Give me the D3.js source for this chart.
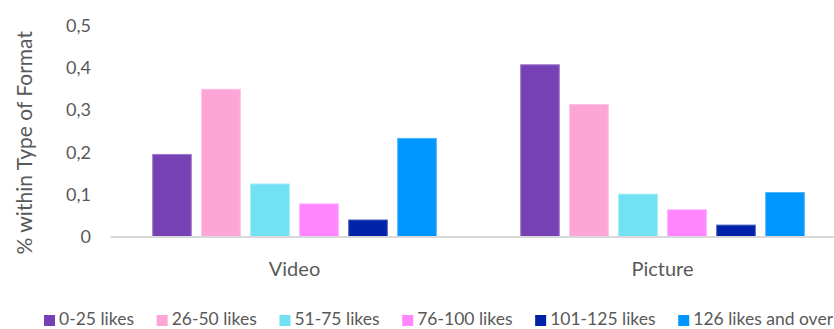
<!DOCTYPE html>
<html>
<head>
<meta charset="utf-8">
<script src="https://cdn.jsdelivr.net/npm/d3@7"></script>
<style>
  html, body { margin: 0; padding: 0; background: #fff; }
  svg { display: block; }
  text { font-family: Lato, "Noto Sans", sans-serif; fill: #595959; }
</style>
</head>
<body>
<svg id="chart" width="834" height="329"></svg>
<script>
// Format categories and like-count buckets
const categories = ["Video", "Picture"];
const series = ["0-25 likes", "26-50 likes", "51-75 likes", "76-100 likes", "101-125 likes", "126 likes and over"];
const colors = ["#7641b5", "#fea5d7", "#71e1f4", "#ff86ff", "#0022a8", "#0096ff"];

// Share within type of format, one array per format
const videoValues = [0.194, 0.348, 0.124, 0.077, 0.039, 0.232];
const pictureValues = [0.406, 0.312, 0.100, 0.063, 0.027, 0.104];
const valuesByCategory = { "Video": videoValues, "Picture": pictureValues };

const yTicks = [0, 0.1, 0.2, 0.3, 0.4, 0.5];
const yTickLabels = ["0", "0,1", "0,2", "0,3", "0,4", "0,5"];
const yTitle = "% within Type of Format";

const svg = d3.select("#chart");
const W = 834, H = 329;

const plot = { left: 110.5, right: 846.5, top: 25, bottom: 236.5 };

const y = d3.scaleLinear().domain([0, 0.5]).range([plot.bottom, plot.top]);
const x0 = d3.scaleBand().domain(categories).range([plot.left, plot.right]);
const x1 = d3.scaleBand().domain(series).range([0, x0.bandwidth()])
  .paddingInner(0.212).paddingOuter(0.861);

// Bars
const groups = svg.append("g").selectAll("g")
  .data(categories).join("g")
  .attr("transform", d => `translate(${x0(d)},0)`);

groups.selectAll("rect")
  .data(c => series.map((s, i) => ({ s, i, v: valuesByCategory[c][i] })))
  .join("rect")
  .attr("x", d => x1(d.s))
  .attr("y", d => y(d.v))
  .attr("width", x1.bandwidth())
  .attr("height", d => y(0) - y(d.v))
  .attr("fill", d => colors[d.i])
  .attr("stroke", d => d3.interpolateRgb(colors[d.i], "#ffffff")(0.3))
  .attr("stroke-width", 1);

// Baseline
svg.append("line")
  .attr("x1", plot.left).attr("x2", W)
  .attr("y1", y(0) + 0.5).attr("y2", y(0) + 0.5)
  .attr("stroke", "#d9d9d9").attr("stroke-width", 2);

// Y axis labels
const yAxis = d3.axisLeft(y)
  .tickValues(yTicks)
  .tickFormat((d, i) => yTickLabels[i])
  .tickSize(0).tickPadding(0);
const yG = svg.append("g").attr("transform", "translate(91,0)").call(yAxis);
yG.select(".domain").remove();
yG.selectAll("text")
  .style("font-family", "Lato, 'Noto Sans', sans-serif")
  .style("font-size", "18px").style("fill", "#595959")
  .attr("dy", "0.35em");

// Category labels
const xAxis = d3.axisBottom(x0).tickSize(0).tickPadding(0);
const xG = svg.append("g").attr("transform", `translate(0,${y(0)})`).call(xAxis);
xG.select(".domain").remove();
xG.selectAll("text")
  .style("font-family", "Lato, 'Noto Sans', sans-serif")
  .style("font-size", "20px").style("fill", "#595959")
  .attr("y", 39).attr("dy", 0);

// Y axis title
svg.append("text")
  .attr("transform", `translate(32,${(plot.top + plot.bottom) / 2 + 12}) rotate(-90)`)
  .attr("text-anchor", "middle")
  .style("font-size", "21px")
  .text(yTitle);

// Legend: spread items evenly between the left and right edges
const legend = svg.append("g");
const legendLeft = 44, legendRight = 833, swatch = 11, swatchGap = 4;
const items = series.map((s, i) => {
  const g = legend.append("g");
  const rect = g.append("rect").attr("y", 315).attr("width", swatch).attr("height", swatch)
    .attr("fill", colors[i]);
  const t = g.append("text").attr("y", 325).style("font-size", "17.5px").text(s);
  return { rect, t, w: t.node().getComputedTextLength() };
});
const used = d3.sum(items, d => swatch + swatchGap + d.w);
const gap = (legendRight - legendLeft - used) / (items.length - 1);
let lx = legendLeft;
items.forEach(d => {
  d.rect.attr("x", lx);
  d.t.attr("x", lx + swatch + swatchGap);
  lx += swatch + swatchGap + d.w + gap;
});
</script>
</body>
</html>
